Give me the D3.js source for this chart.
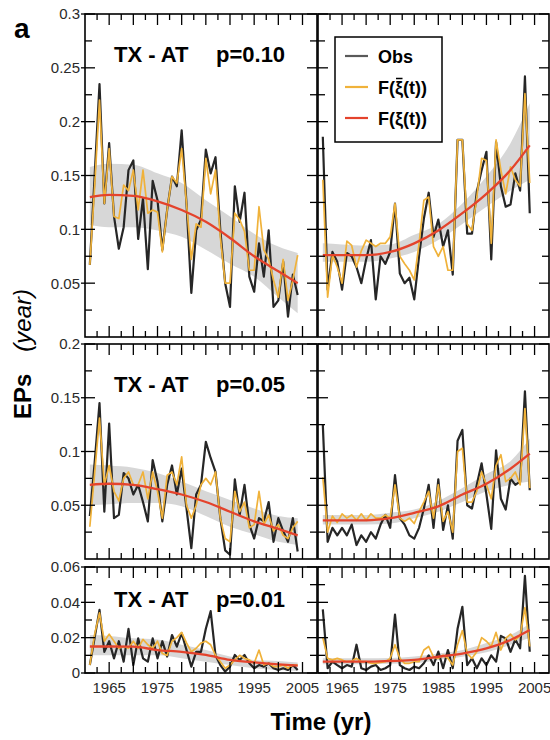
<!DOCTYPE html>
<html>
<head>
<meta charset="utf-8">
<script src="https://cdn.jsdelivr.net/npm/d3@7"></script>
<style>
  body { margin: 0; background: #fff; }
  svg { display: block; font-family: "Liberation Sans", Arial, Helvetica, sans-serif; }
</style>
</head>
<body>
<svg id="chart" width="550" height="740"></svg>
<script>
// ---- data -------------------------------------------------------------
const years = [1961,1962,1963,1964,1965,1966,1967,1968,1969,1970,
               1971,1972,1973,1974,1975,1976,1977,1978,1979,1980,
               1981,1982,1983,1984,1985,1986,1987,1988,1989,1990,
               1991,1992,1993,1994,1995,1996,1997,1998,1999,2000,
               2001,2002,2003,2004];
const fitYears = [1961,1965,1970,1975,1980,1985,1990,1995,2000,2004];
const xTickLabels = [1965,1975,1985,1995,2005];
const panelTitle = "TX - AT";
const pLabels = ["p=0.10","p=0.05","p=0.01"];
// legend entries: prefix, symbol (barred or not), suffix
const legendLabels = [
  { pre: "Obs", sym: "", post: "", bar: false },
  { pre: "F(", sym: "\u03BE", post: "(t))", bar: true },
  { pre: "F(", sym: "\u03BE", post: "(t))", bar: false }
];

// p = 0.10, left column
const obs10L  = [0.067,0.150,0.235,0.124,0.180,0.112,0.082,0.102,0.155,0.164,
                 0.091,0.129,0.063,0.145,0.127,0.081,0.118,0.149,0.140,0.192,
                 0.124,0.041,0.099,0.109,0.174,0.152,0.167,0.099,0.050,0.028,
                 0.140,0.107,0.134,0.056,0.042,0.087,0.056,0.099,0.028,0.034,
                 0.070,0.019,0.058,0.039];
const fbar10L = [0.067,0.140,0.220,0.124,0.175,0.112,0.110,0.141,0.136,0.155,
                 0.118,0.155,0.115,0.118,0.116,0.079,0.118,0.149,0.143,0.175,
                 0.124,0.072,0.105,0.102,0.166,0.133,0.155,0.093,0.050,0.050,
                 0.115,0.109,0.098,0.062,0.062,0.121,0.081,0.072,0.053,0.037,
                 0.072,0.034,0.053,0.076];
const fit10L  = [0.130,0.132,0.131,0.126,0.118,0.107,0.092,0.075,0.061,0.050];
const hi10L   = [0.158,0.161,0.160,0.152,0.143,0.127,0.112,0.096,0.084,0.078];
const lo10L   = [0.104,0.102,0.102,0.099,0.093,0.081,0.068,0.056,0.037,0.022];

// p = 0.10, right column
const obs10R  = [0.186,0.044,0.079,0.070,0.044,0.078,0.075,0.065,0.050,0.072,
                 0.090,0.035,0.075,0.068,0.079,0.124,0.059,0.050,0.055,0.035,
                 0.075,0.110,0.134,0.093,0.109,0.084,0.099,0.058,0.183,0.183,
                 0.096,0.096,0.135,0.155,0.172,0.072,0.181,0.140,0.121,0.123,
                 0.152,0.136,0.242,0.115];
const fbar10R = [0.146,0.037,0.076,0.065,0.050,0.089,0.085,0.065,0.080,0.090,
                 0.087,0.084,0.087,0.087,0.093,0.124,0.075,0.068,0.062,0.053,
                 0.087,0.127,0.130,0.084,0.075,0.084,0.062,0.062,0.183,0.183,
                 0.105,0.099,0.130,0.166,0.164,0.087,0.183,0.155,0.133,0.158,
                 0.146,0.140,0.226,0.143];
const fit10R  = [0.076,0.076,0.076,0.079,0.087,0.099,0.115,0.133,0.155,0.178];
const hi10R   = [0.087,0.086,0.085,0.086,0.095,0.105,0.124,0.149,0.180,0.217];
const lo10R   = [0.070,0.070,0.070,0.073,0.079,0.090,0.105,0.121,0.136,0.146];

// p = 0.05, left column
const obs05L  = [0.040,0.090,0.145,0.044,0.126,0.038,0.041,0.080,0.075,0.060,
                 0.069,0.053,0.035,0.092,0.072,0.035,0.069,0.087,0.060,0.084,
                 0.047,0.010,0.060,0.069,0.109,0.094,0.081,0.038,0.008,0.004,
                 0.074,0.041,0.069,0.032,0.019,0.038,0.035,0.053,0.016,0.038,
                 0.026,0.016,0.038,0.007];
const fbar05L = [0.030,0.080,0.131,0.069,0.087,0.063,0.054,0.075,0.081,0.069,
                 0.069,0.081,0.056,0.081,0.063,0.038,0.078,0.081,0.069,0.095,
                 0.050,0.038,0.050,0.069,0.075,0.069,0.081,0.038,0.019,0.016,
                 0.063,0.044,0.053,0.029,0.032,0.063,0.032,0.041,0.026,0.032,
                 0.022,0.019,0.029,0.035];
const fit05L  = [0.069,0.070,0.069,0.065,0.060,0.053,0.044,0.035,0.028,0.022];
const hi05L   = [0.088,0.087,0.085,0.080,0.072,0.063,0.055,0.047,0.040,0.038];
const lo05L   = [0.050,0.051,0.052,0.052,0.049,0.040,0.030,0.023,0.016,0.013];

// p = 0.05, right column
const obs05R  = [0.125,0.016,0.029,0.022,0.029,0.022,0.032,0.013,0.022,0.016,
                 0.025,0.019,0.032,0.041,0.029,0.078,0.038,0.032,0.022,0.019,
                 0.029,0.047,0.069,0.029,0.074,0.027,0.050,0.019,0.110,0.120,
                 0.050,0.047,0.069,0.089,0.060,0.028,0.101,0.056,0.046,0.075,
                 0.069,0.072,0.156,0.064];
const fbar05R = [0.076,0.025,0.040,0.034,0.042,0.038,0.041,0.036,0.042,0.036,
                 0.042,0.038,0.038,0.041,0.038,0.069,0.038,0.035,0.038,0.033,
                 0.044,0.053,0.063,0.038,0.069,0.035,0.044,0.025,0.100,0.103,
                 0.053,0.053,0.063,0.081,0.069,0.056,0.087,0.097,0.072,0.075,
                 0.081,0.069,0.140,0.066];
const fit05R  = [0.036,0.036,0.036,0.038,0.043,0.049,0.060,0.070,0.084,0.098];
const hi05R   = [0.041,0.041,0.041,0.043,0.046,0.054,0.066,0.079,0.091,0.112];
const lo05R   = [0.032,0.032,0.032,0.033,0.038,0.044,0.053,0.063,0.069,0.072];

// p = 0.01, left column
const obs01L  = [0.0045,0.020,0.0357,0.012,0.018,0.0083,0.018,0.0064,0.025,0.0045,
                 0.0196,0.0083,0.0064,0.0196,0.0083,0.018,0.0093,0.0215,0.0149,0.0225,
                 0.013,0.0036,0.012,0.012,0.025,0.035,0.010,0.0045,0.0008,0.0036,
                 0.0102,0.0074,0.0102,0.0055,0.0027,0.0045,0.0036,0.0055,0.0027,0.0017,
                 0.0027,0.0017,0.0045,0.0017];
const fbar01L = [0.0045,0.022,0.034,0.018,0.022,0.018,0.014,0.015,0.014,0.018,
                 0.014,0.019,0.016,0.014,0.018,0.011,0.010,0.018,0.020,0.023,
                 0.017,0.012,0.014,0.017,0.018,0.016,0.010,0.0064,0.0027,0.0045,
                 0.0074,0.010,0.0083,0.0074,0.0055,0.013,0.0045,0.0055,0.0036,0.0036,
                 0.0045,0.0027,0.0045,0.0045];
const fit01L  = [0.015,0.015,0.0149,0.013,0.012,0.0102,0.0074,0.006,0.0049,0.0042];
const hi01L   = [0.0215,0.021,0.0196,0.019,0.016,0.013,0.0093,0.0074,0.0068,0.006];
const lo01L   = [0.010,0.010,0.010,0.010,0.0083,0.0064,0.0045,0.0027,0.0017,0.0012];

// p = 0.01, right column
const obs01R  = [0.036,0.0027,0.0064,0.0045,0.0027,0.0045,0.0036,0.016,0.0027,0.0017,
                 0.0036,0.0045,0.0017,0.0027,0.0045,0.033,0.0045,0.0027,0.0017,0.0036,
                 0.0027,0.0055,0.010,0.0045,0.0121,0.0027,0.013,0.0027,0.025,0.0375,
                 0.0045,0.0083,0.0027,0.0083,0.0045,0.010,0.0064,0.021,0.0196,0.012,
                 0.019,0.014,0.055,0.012];
const fbar01R = [0.020,0.0083,0.0074,0.0083,0.0074,0.0064,0.0068,0.0083,0.0064,0.0064,
                 0.0055,0.0055,0.006,0.0064,0.0083,0.016,0.0083,0.0055,0.0055,0.0064,
                 0.0064,0.013,0.015,0.009,0.0083,0.010,0.0083,0.0045,0.016,0.024,
                 0.011,0.0083,0.012,0.020,0.018,0.015,0.023,0.013,0.0196,0.022,
                 0.0187,0.021,0.037,0.015];
const fit01R  = [0.0064,0.0064,0.0064,0.0068,0.0074,0.0092,0.011,0.0139,0.0187,0.0243];
const hi01R   = [0.0083,0.0083,0.0083,0.0085,0.0093,0.011,0.013,0.017,0.0215,0.028];
const lo01R   = [0.005,0.005,0.005,0.0052,0.0055,0.0074,0.0092,0.0117,0.016,0.020];

// axis ticks per row
const yMajorTop = [0.05,0.1,0.15,0.2,0.25,0.3];
const yMinorTop = [0.025,0.075,0.125,0.175,0.225,0.275];
const yMajorMid = [0.05,0.1,0.15,0.2];
const yMinorMid = [0.025,0.075,0.125,0.175];
const yMajorBot = [0,0.02,0.04,0.06];
const yMinorBot = [0.01,0.03,0.05];
const xMajor = [1965,1970,1975,1980,1985,1990,1995,2000,2005];
const xMinor = [1962.5,1967.5,1972.5,1977.5,1982.5,1987.5,1992.5,1997.5,2002.5];

// ---- layout -----------------------------------------------------------
const colors = { obs: "#262626", fbar: "#f0b23a", fit: "#e4432c", band: "#d7d7d7", legendObs: "#5a5a5a" };
const cols = [ { x0: 85, x1: 317 }, { x0: 318, x1: 549 } ];
const rows = [
  { y0: 14,  y1: 337, domain: [0, 0.3],  major: yMajorTop, minor: yMinorTop, label: pLabels[0], titleDy: 48,
    series: [[obs10L, fbar10L, fit10L, hi10L, lo10L], [obs10R, fbar10R, fit10R, hi10R, lo10R]] },
  { y0: 344, y1: 559, domain: [0, 0.2],  major: yMajorMid, minor: yMinorMid, label: pLabels[1], titleDy: 48,
    series: [[obs05L, fbar05L, fit05L, hi05L, lo05L], [obs05R, fbar05R, fit05R, hi05R, lo05R]] },
  { y0: 567, y1: 673, domain: [0, 0.06], major: yMajorBot, minor: yMinorBot, label: pLabels[2], titleDy: 40,
    series: [[obs01L, fbar01L, fit01L, hi01L, lo01L], [obs01R, fbar01R, fit01R, hi01R, lo01R]] }
];

const svg = d3.select("#chart");
const fmt = d3.format("~g");

rows.forEach((row, ri) => {
  const y = d3.scaleLinear().domain(row.domain).range([row.y1, row.y0]);
  cols.forEach((col, ci) => {
    const x = d3.scaleLinear().domain([1960, 2008]).range([col.x0, col.x1]);
    const g = svg.append("g");
    const [obs, fbar, fit, hi, lo] = row.series[ci];

    // confidence band of the fitted curve
    const bandData = fitYears.map((yr, i) => ({ yr, lo: lo[i], hi: hi[i] }));
    g.append("path")
      .datum(bandData)
      .attr("fill", colors.band)
      .attr("d", d3.area().x(d => x(d.yr)).y0(d => y(d.lo)).y1(d => y(d.hi)).curve(d3.curveMonotoneX));

    // observed series
    g.append("path")
      .datum(years.map((yr, i) => ({ yr, v: obs[i] })))
      .attr("fill", "none").attr("stroke", colors.obs).attr("stroke-width", 2.2)
      .attr("stroke-linejoin", "round")
      .attr("d", d3.line().x(d => x(d.yr)).y(d => y(d.v)));

    // F(xi-bar(t))
    g.append("path")
      .datum(years.map((yr, i) => ({ yr, v: fbar[i] })))
      .attr("fill", "none").attr("stroke", colors.fbar).attr("stroke-width", 1.7)
      .attr("stroke-linejoin", "round")
      .attr("d", d3.line().x(d => x(d.yr)).y(d => y(d.v)));

    // F(xi(t)) fitted curve
    g.append("path")
      .datum(fitYears.map((yr, i) => ({ yr, v: fit[i] })))
      .attr("fill", "none").attr("stroke", colors.fit).attr("stroke-width", 2.3)
      .attr("d", d3.line().x(d => x(d.yr)).y(d => y(d.v)).curve(d3.curveMonotoneX));

    // inward ticks on all four sides
    const tk = g.append("g").attr("stroke", "#000").attr("stroke-width", 1.3);
    xMajor.forEach(v => {
      tk.append("line").attr("x1", x(v)).attr("x2", x(v)).attr("y1", row.y1).attr("y2", row.y1 - 11);
      tk.append("line").attr("x1", x(v)).attr("x2", x(v)).attr("y1", row.y0).attr("y2", row.y0 + 11);
    });
    xMinor.forEach(v => {
      tk.append("line").attr("x1", x(v)).attr("x2", x(v)).attr("y1", row.y1).attr("y2", row.y1 - 6);
      tk.append("line").attr("x1", x(v)).attr("x2", x(v)).attr("y1", row.y0).attr("y2", row.y0 + 6);
    });
    row.major.forEach(v => {
      const out = ci === 0 ? 4 : 0;
      tk.append("line").attr("y1", y(v)).attr("y2", y(v)).attr("x1", col.x0 - out).attr("x2", col.x0 + 10);
      tk.append("line").attr("y1", y(v)).attr("y2", y(v)).attr("x1", col.x1).attr("x2", col.x1 - 10);
    });
    row.minor.forEach(v => {
      tk.append("line").attr("y1", y(v)).attr("y2", y(v)).attr("x1", col.x0).attr("x2", col.x0 + 7);
      tk.append("line").attr("y1", y(v)).attr("y2", y(v)).attr("x1", col.x1).attr("x2", col.x1 - 7);
    });

    // frame
    g.append("rect")
      .attr("x", col.x0).attr("y", row.y0)
      .attr("width", col.x1 - col.x0).attr("height", row.y1 - row.y0)
      .attr("fill", "none").attr("stroke", "#000").attr("stroke-width", 1.6);

    // y tick labels and panel titles on the left column
    if (ci === 0) {
      row.major.forEach(v => {
        if (v === 0 && ri < 2) return;
        svg.append("text")
          .attr("x", 80).attr("y", y(v)).attr("dy", "0.36em")
          .attr("text-anchor", "end").attr("font-size", 15).attr("fill", "#2a2a2a")
          .text(fmt(v));
      });
      svg.append("text").attr("x", 114).attr("y", row.y0 + row.titleDy)
        .attr("font-size", 22).attr("font-weight", "bold").text(panelTitle);
      svg.append("text").attr("x", 216).attr("y", row.y0 + row.titleDy)
        .attr("font-size", 22).attr("font-weight", "bold").text(row.label);
    }

    // x tick labels on the bottom row
    if (ri === rows.length - 1) {
      xTickLabels.forEach(v => {
        svg.append("text").attr("x", x(v)).attr("y", 693)
          .attr("text-anchor", "middle").attr("font-size", 15).attr("fill", "#2a2a2a")
          .text(v);
      });
    }
  });
});

// legend in the top-right panel
const lg = svg.append("g");
lg.append("rect").attr("x", 335).attr("y", 37).attr("width", 107).attr("height", 105)
  .attr("fill", "#fff").attr("stroke", "#000").attr("stroke-width", 1.5);
const legendColors = [colors.legendObs, colors.fbar, colors.fit];
legendLabels.forEach((lab, i) => {
  const cy = 56 + i * 31;
  lg.append("line").attr("x1", 345).attr("x2", 368).attr("y1", cy).attr("y2", cy)
    .attr("stroke", legendColors[i]).attr("stroke-width", 2.2);
  const t = lg.append("text").attr("x", 378).attr("y", cy + 7)
    .attr("font-size", 18).attr("font-weight", "bold");
  t.append("tspan").text(lab.pre);
  if (lab.sym) {
    t.append("tspan").text(lab.sym);
    t.append("tspan").text(lab.post);
  }
  if (lab.bar) {
    // overbar above the xi symbol
    const node = t.node();
    const i0 = lab.pre.length;
    const a = node.getStartPositionOfChar(i0).x;
    const b = node.getEndPositionOfChar(i0).x;
    lg.append("line").attr("x1", a + 1).attr("x2", b - 0.5)
      .attr("y1", cy - 8.5).attr("y2", cy - 8.5)
      .attr("stroke", "#000").attr("stroke-width", 1.5);
  }
});

// panel letter and axis titles
svg.append("text").attr("x", 14).attr("y", 38).attr("font-size", 28).attr("font-weight", "bold").text("a");

const yt = svg.append("text")
  .attr("transform", "translate(31,354) rotate(-90)")
  .attr("text-anchor", "middle").attr("font-size", 24);
yt.append("tspan").attr("font-weight", "bold").text("EPs");
yt.append("tspan").attr("dx", 22).attr("font-style", "italic").text("(year)");

svg.append("text").attr("x", 321).attr("y", 730).attr("text-anchor", "middle")
  .attr("font-size", 24).attr("font-weight", "bold").text("Time (yr)");
</script>
</body>
</html>
